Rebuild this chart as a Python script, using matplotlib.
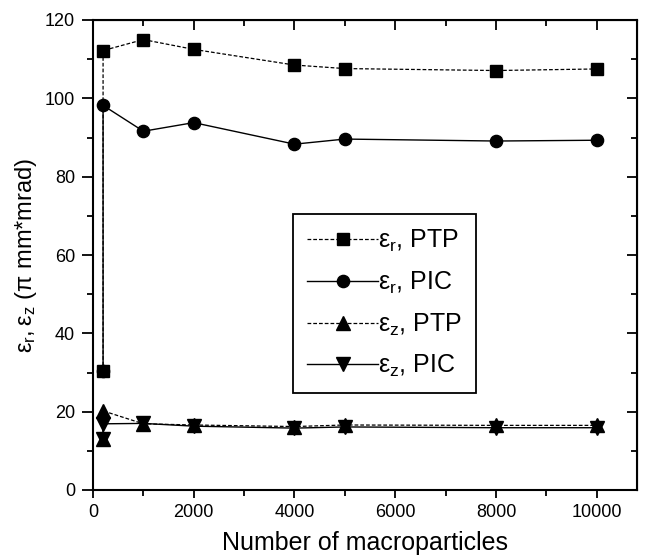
import matplotlib
matplotlib.use('Agg')
import matplotlib.pyplot as plt
from matplotlib.ticker import MultipleLocator

plt.rcParams['font.family'] = ['Liberation Sans', 'DejaVu Sans']
plt.rcParams['mathtext.fontset'] = 'custom'
plt.rcParams['mathtext.rm'] = 'Liberation Sans'
plt.rcParams['mathtext.it'] = 'Liberation Sans'

# number of macroparticles (first two runs share N = 200)
n_particles = [200, 200, 1000, 2000, 4000, 5000, 8000, 10000]

# emittances (pi mm*mrad)
eps_r_ptp = [30.3, 112.2, 115.0, 112.5, 108.5, 107.6, 107.1, 107.5]
eps_r_pic = [30.3, 98.2, 91.6, 93.8, 88.3, 89.6, 89.1, 89.3]
eps_z_ptp = [13.0, 20.2, 16.9, 16.6, 16.2, 16.6, 16.5, 16.5]
eps_z_pic = [13.0, 16.9, 17.0, 16.3, 15.8, 16.1, 15.9, 15.9]

fig = plt.figure(figsize=(6.56, 5.58), dpi=100)
ax = fig.add_axes([93 / 656, 1 - 490 / 558, 544 / 656, 470 / 558])

dash = (0, (3, 1.6))
ax.plot(n_particles, eps_r_ptp, color='black', lw=0.9, ls=dash, marker='s', ms=8,
        label=r'$\mathregular{\epsilon_r}$, PTP')
ax.plot(n_particles, eps_r_pic, color='black', lw=1.0, ls='-', marker='o', ms=8.8,
        label=r'$\mathregular{\epsilon_r}$, PIC')
ax.plot(n_particles, eps_z_ptp, color='black', lw=0.9, ls=dash, marker='^', ms=9.5,
        label=r'$\mathregular{\epsilon_z}$, PTP')
ax.plot(n_particles, eps_z_pic, color='black', lw=1.0, ls='-', marker='v', ms=9.5,
        label=r'$\mathregular{\epsilon_z}$, PIC')

ax.set_xlim(0, 10800)
ax.set_ylim(0, 120)
ax.xaxis.set_major_locator(MultipleLocator(2000))
ax.xaxis.set_minor_locator(MultipleLocator(1000))
ax.yaxis.set_major_locator(MultipleLocator(20))
ax.yaxis.set_minor_locator(MultipleLocator(10))
ax.tick_params(which='both', direction='out', top=False, right=False, labelsize=13, width=1.3)
ax.tick_params(axis='x', which='major', length=6, pad=4)
ax.tick_params(axis='y', which='major', length=8, pad=5)
ax.tick_params(which='minor', length=4)
for spine in ax.spines.values():
    spine.set_linewidth(1.5)

# inward ticks on the top and right edges
ax_top = ax.secondary_xaxis('top')
ax_top.xaxis.set_major_locator(MultipleLocator(2000))
ax_top.xaxis.set_minor_locator(MultipleLocator(1000))
ax_top.tick_params(which='both', direction='in', labeltop=False, width=1.3)
ax_top.tick_params(which='major', length=7)
ax_top.tick_params(which='minor', length=4)
ax_right = ax.secondary_yaxis('right')
ax_right.yaxis.set_major_locator(MultipleLocator(20))
ax_right.yaxis.set_minor_locator(MultipleLocator(10))
ax_right.tick_params(which='both', direction='in', labelright=False, width=1.3)
ax_right.tick_params(which='major', length=7)
ax_right.tick_params(which='minor', length=4)

ax.set_xlabel('Number of macroparticles', fontsize=18, labelpad=7)
ax.set_ylabel(r'$\mathregular{\epsilon_r, \epsilon_z}$ ($\mathregular{\pi}$ mm*mrad)',
              fontsize=17, labelpad=4)

leg = ax.legend(loc='lower left', bbox_to_anchor=(0.368, 0.206), fontsize=18,
                handlelength=2.85, handletextpad=0.0, labelspacing=0.62,
                borderpad=0.55, borderaxespad=0, fancybox=False,
                edgecolor='black', framealpha=1)
leg.get_frame().set_linewidth(1.3)

fig.savefig('out.png', dpi=100)
